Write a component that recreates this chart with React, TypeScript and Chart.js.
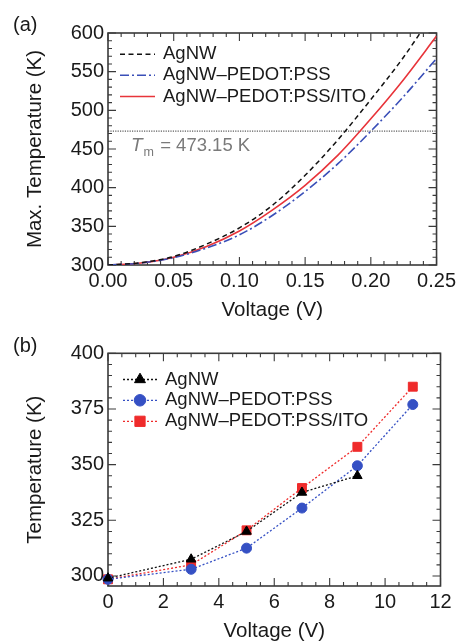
import React, { useEffect, useRef } from "react";
import { Chart, registerables } from "chart.js";
import { drawPoint } from "chart.js/helpers";

Chart.register(...registerables);

// ---------- Panel (a) data ----------
const voltageA = [0, 0.025, 0.05, 0.075, 0.1, 0.125, 0.15, 0.175, 0.2, 0.225, 0.25];
const maxTempAgNW = [300, 303, 311, 327, 348, 377, 416, 462, 514, 569, 632];
const maxTempPedot = [300, 302.5, 309.5, 322, 339, 364, 395, 431, 473, 518, 567];
const maxTempIto = [300, 302.5, 310, 324, 344, 371, 403, 442, 489, 540, 596];
const meltingTemp = 473.15;
const xTicksA = [0, 0.05, 0.1, 0.15, 0.2, 0.25];
const yTicksA = [300, 350, 400, 450, 500, 550, 600];

// ---------- Panel (b) data ----------
const voltageB_AgNW = [0, 3, 5, 7, 9];
const tempB_AgNW = [299, 307.5, 320, 337.5, 345];
const voltageB = [0, 3, 5, 7, 9, 11];
const tempB_Pedot = [298.5, 303, 312.5, 330.5, 349.5, 377];
const tempB_Ito = [298.5, 305, 320.5, 339.5, 358, 385];
const xTicksB = [0, 2, 4, 6, 8, 10, 12];
const yTicksB = [300, 325, 350, 375, 400];

const seriesLabels = ["AgNW", "AgNW\u2013PEDOT:PSS", "AgNW\u2013PEDOT:PSS/ITO"];

const FONT = "'Liberation Sans', Arial, Helvetica, sans-serif";
const AXIS_COLOR = "#3a3a3a";
const TEXT_COLOR = "#1a1a1a";

const BLACK = "#111111";
const BLUE = "#3a4fb8";
const RED = "#e8343a";
const BLUE_MK = "#3550c4";
const RED_MK = "#ef2b2b";

const toPts = (xs: number[], ys: number[]) => xs.map((x, i) => ({ x, y: ys[i] }));

// frame + inward ticks on all four sides
const frameTicks = {
  id: "frameTicks",
  beforeDatasetsDraw(chart: any, _args: any, opts: any) {
    const { ctx, chartArea: a, scales } = chart;
    const xs = scales.x;
    const ys = scales.y;
    ctx.save();
    ctx.strokeStyle = AXIS_COLOR;
    ctx.lineWidth = 1.1;
    ctx.beginPath();
    const range = (min: number, max: number, step: number) => {
      const out: number[] = [];
      const start = Math.ceil(min / step - 1e-9);
      const end = Math.floor(max / step + 1e-9);
      for (let i = start; i <= end; i++) out.push(i * step);
      return out;
    };
    const tickX = (v: number, len: number) => {
      const p = xs.getPixelForValue(v);
      ctx.moveTo(p, a.bottom);
      ctx.lineTo(p, a.bottom - len);
      ctx.moveTo(p, a.top);
      ctx.lineTo(p, a.top + len);
    };
    const tickY = (v: number, len: number) => {
      const p = ys.getPixelForValue(v);
      ctx.moveTo(a.left, p);
      ctx.lineTo(a.left + len, p);
      ctx.moveTo(a.right, p);
      ctx.lineTo(a.right - len, p);
    };
    range(xs.min, xs.max, opts.xMinor).forEach((v) => tickX(v, 4));
    range(ys.min, ys.max, opts.yMinor).forEach((v) => tickY(v, 4));
    xs.ticks.forEach((t: any) => tickX(t.value, 8));
    ys.ticks.forEach((t: any) => tickY(t.value, 8));
    ctx.stroke();
    ctx.lineWidth = 1.6;
    ctx.strokeRect(a.left, a.top, a.width, a.height);
    ctx.restore();
  },
};

// inner legend + panel letter + annotation
const overlay = {
  id: "overlay",
  afterDraw(chart: any, _args: any, opts: any) {
    const { ctx } = chart;
    ctx.save();
    // panel letter
    ctx.fillStyle = TEXT_COLOR;
    ctx.font = `20px ${FONT}`;
    ctx.textBaseline = "middle";
    ctx.textAlign = "left";
    ctx.fillText(opts.letter, 13, 25);

    // legend
    const ds = chart.data.datasets.filter((d: any) => d.inLegend);
    ds.forEach((d: any, i: number) => {
      const y = opts.rows[i];
      ctx.save();
      ctx.strokeStyle = d.borderColor;
      ctx.lineWidth = d.borderWidth;
      ctx.setLineDash(d.borderDash || []);
      ctx.beginPath();
      ctx.moveTo(opts.x0, y);
      ctx.lineTo(opts.x1, y);
      ctx.stroke();
      ctx.restore();
      if (d.pointRadius > 0) {
        ctx.save();
        ctx.fillStyle = d.pointBackgroundColor;
        ctx.strokeStyle = d.pointBorderColor;
        ctx.lineWidth = 1;
        drawPoint(ctx, { pointStyle: d.pointStyle, radius: d.pointRadius * 1.15, borderWidth: 1, rotation: 0 }, (opts.x0 + opts.x1) / 2, y);
        ctx.restore();
      }
      ctx.fillStyle = TEXT_COLOR;
      ctx.font = `18.5px ${FONT}`;
      ctx.textBaseline = "middle";
      ctx.fillText(d.label, opts.textX, y);
    });

    // melting point annotation
    if (opts.tm) {
      const ys = chart.scales.y;
      const baseX = chart.chartArea.left + 23;
      const baseY = ys.getPixelForValue(opts.tm) + 20;
      ctx.fillStyle = "#7a7a7a";
      ctx.textBaseline = "alphabetic";
      ctx.font = `italic 19px ${FONT}`;
      ctx.fillText("T", baseX, baseY);
      const wT = ctx.measureText("T").width;
      ctx.font = `12.5px ${FONT}`;
      ctx.fillText("m", baseX + wT + 1, baseY + 5);
      const wm = ctx.measureText("m").width;
      ctx.font = `18.5px ${FONT}`;
      ctx.fillText(` = ${opts.tm} K`, baseX + wT + wm + 2, baseY);
    }
    ctx.restore();
  },
};

function makeScales(xMin: number, xMax: number, yMin: number, yMax: number, xTicks: number[], yTicks: number[], xFmt: (v: number) => string, yTitle: string) {
  return {
    x: {
      type: "linear",
      min: xMin,
      max: xMax,
      afterFit: (s: any) => {
        s.height = 56;
      },
      afterBuildTicks: (s: any) => {
        s.ticks = xTicks.map((v) => ({ value: v }));
      },
      grid: { display: false, drawTicks: false },
      border: { display: false },
      ticks: {
        padding: 4,
        color: TEXT_COLOR,
        font: { family: FONT, size: 20 },
        maxRotation: 0,
        autoSkip: false,
        callback: (v: any) => xFmt(Number(v)),
      },
      title: {
        display: true,
        text: "Voltage (V)",
        color: TEXT_COLOR,
        font: { family: FONT, size: 20.5, lineHeight: 1 },
        padding: 0,
      },
    },
    y: {
      type: "linear",
      min: yMin,
      max: yMax,
      afterFit: (s: any) => {
        s.width = 108;
      },
      afterBuildTicks: (s: any) => {
        s.ticks = yTicks.map((v) => ({ value: v }));
      },
      grid: { display: false, drawTicks: false },
      border: { display: false },
      ticks: {
        padding: 4,
        color: TEXT_COLOR,
        font: { family: FONT, size: 20 },
        autoSkip: false,
        callback: (v: any) => String(Math.round(Number(v))),
      },
      title: {
        display: true,
        text: yTitle,
        color: TEXT_COLOR,
        font: { family: FONT, size: 20.5, lineHeight: 1 },
        padding: { top: 25, bottom: 0 },
      },
    },
  };
}

function PanelA() {
  const ref = useRef<HTMLCanvasElement | null>(null);
  useEffect(() => {
    if (!ref.current) return;
    const chart = new Chart(ref.current, {
      type: "line",
      data: {
        datasets: [
          {
            label: seriesLabels[0],
            data: toPts(voltageA, maxTempAgNW),
            borderColor: BLACK,
            borderWidth: 1.5,
            borderDash: [5, 3.5],
            pointRadius: 0,
            cubicInterpolationMode: "monotone",
            clip: 0,
            inLegend: true,
          } as any,
          {
            label: seriesLabels[1],
            data: toPts(voltageA, maxTempPedot),
            borderColor: BLUE,
            borderWidth: 1.6,
            borderDash: [9, 3, 2, 3],
            pointRadius: 0,
            cubicInterpolationMode: "monotone",
            clip: 0,
            inLegend: true,
          } as any,
          {
            label: seriesLabels[2],
            data: toPts(voltageA, maxTempIto),
            borderColor: RED,
            borderWidth: 1.6,
            pointRadius: 0,
            cubicInterpolationMode: "monotone",
            clip: 0,
            inLegend: true,
          } as any,
          {
            label: "Tm",
            data: [
              { x: xTicksA[0], y: meltingTemp },
              { x: xTicksA[xTicksA.length - 1], y: meltingTemp },
            ],
            borderColor: "#333333",
            borderWidth: 1,
            borderDash: [1.2, 1.2],
            pointRadius: 0,
            clip: 0,
          } as any,
        ],
      },
      options: {
        animation: false,
        responsive: false,
        devicePixelRatio: 1,
        layout: { padding: { left: 0, right: 20, top: 33, bottom: 0 } },
        plugins: {
          legend: { display: false },
          tooltip: { enabled: false },
          frameTicks: { xMinor: 0.01, yMinor: 10 },
          overlay: { letter: "(a)", rows: [54.3, 75.3, 96.5], x0: 120, x1: 155, textX: 163, tm: meltingTemp },
        } as any,
        scales: makeScales(0, 0.25, 300, 600, xTicksA, yTicksA, (v) => v.toFixed(2), "Max. Temperature (K)") as any,
      },
      plugins: [frameTicks, overlay],
    });
    return () => chart.destroy();
  }, []);
  return <canvas ref={ref} width={460} height={321} style={{ display: "block", width: 460, height: 321 }} />;
}

function PanelB() {
  const ref = useRef<HTMLCanvasElement | null>(null);
  useEffect(() => {
    if (!ref.current) return;
    const common = { borderWidth: 1.3, borderDash: [2, 2], clip: false, inLegend: true };
    const chart = new Chart(ref.current, {
      type: "line",
      data: {
        datasets: [
          {
            ...common,
            label: seriesLabels[0],
            data: toPts(voltageB_AgNW, tempB_AgNW),
            borderColor: BLACK,
            pointStyle: "triangle",
            pointRadius: 5.5,
            pointBackgroundColor: "#000000",
            pointBorderColor: "#000000",
            pointBorderWidth: 1,
          } as any,
          {
            ...common,
            label: seriesLabels[1],
            data: toPts(voltageB, tempB_Pedot),
            borderColor: BLUE_MK,
            pointStyle: "circle",
            pointRadius: 5,
            pointBackgroundColor: BLUE_MK,
            pointBorderColor: BLUE_MK,
            pointBorderWidth: 1,
          } as any,
          {
            ...common,
            label: seriesLabels[2],
            data: toPts(voltageB, tempB_Ito),
            borderColor: RED_MK,
            pointStyle: "rect",
            pointRadius: 6.3,
            pointBackgroundColor: RED_MK,
            pointBorderColor: RED_MK,
            pointBorderWidth: 1,
          } as any,
        ],
      },
      options: {
        animation: false,
        responsive: false,
        devicePixelRatio: 1,
        layout: { padding: { left: 0, right: 19.5, top: 32.3, bottom: 0 } },
        plugins: {
          legend: { display: false },
          tooltip: { enabled: false },
          frameTicks: { xMinor: 0.5, yMinor: 5 },
          overlay: { letter: "(b)", rows: [58.5, 79.3, 100.3], x0: 123, x1: 157, textX: 165 },
        } as any,
        scales: makeScales(0, 12, 295.5, 400, xTicksB, yTicksB, (v) => String(v), "Temperature (K)") as any,
      },
      plugins: [frameTicks, overlay],
    });
    return () => chart.destroy();
  }, []);
  return <canvas ref={ref} width={460} height={321} style={{ display: "block", width: 460, height: 321 }} />;
}

export default function App() {
  return (
    <div style={{ position: "absolute", left: 0, top: 0, width: 460, height: 642, background: "#ffffff" }}>
      <PanelA />
      <PanelB />
    </div>
  );
}
